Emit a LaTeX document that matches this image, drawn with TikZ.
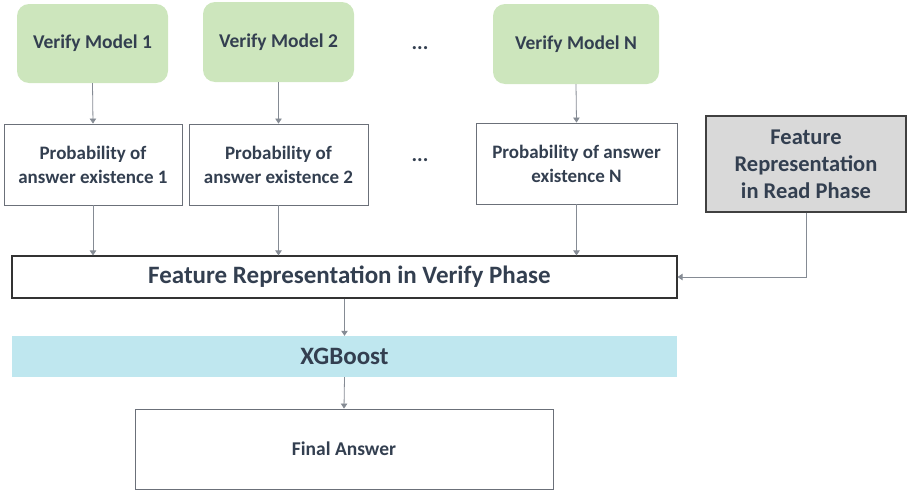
\documentclass[tikz,border=0pt]{standalone}
\usepackage{fontspec}
\setmainfont{Carlito}
\usetikzlibrary{arrows.meta}
\definecolor{txt}{HTML}{333F50}
\definecolor{greenfill}{HTML}{CDE6BD}
\definecolor{bluefill}{HTML}{BFE7EF}
\definecolor{grayfill}{HTML}{D9D9D9}
\definecolor{linegray}{HTML}{858B94}
\definecolor{edgegray}{HTML}{6B7079}
\begin{document}
\begin{tikzpicture}[x=1pt,y=-1pt,
  font=\bfseries, text=txt,
  model/.style={fill=greenfill, draw=none, rounded corners=12pt, inner sep=0pt, font=\bfseries\fontsize{19.5}{23}\selectfont},
  probbox/.style={draw=edgegray, line width=0.9pt, fill=white, inner sep=0pt, align=center, font=\bfseries\fontsize{19}{24}\selectfont},
  bigbox/.style={draw=black!80, line width=1.1pt, fill=white, inner sep=0pt, font=\bfseries\fontsize{25}{29}\selectfont},
  boostbox/.style={fill=bluefill, draw=none, inner sep=0pt, font=\bfseries\fontsize{25}{29}\selectfont},
  readbox/.style={draw=black!75, line width=1.1pt, fill=grayfill, inner sep=0pt, align=center, font=\bfseries\fontsize{22.5}{27}\selectfont},
  finalbox/.style={draw=edgegray, line width=0.9pt, fill=white, inner sep=0pt, font=\bfseries\fontsize{19.5}{23}\selectfont},
  dots/.style={font=\bfseries\fontsize{21}{25}\selectfont},
  flow/.style={draw=linegray, line width=0.8pt, -{Triangle[length=5pt,width=6.5pt]}}]
\useasboundingbox (0,0) rectangle (907,490);

% verify models
\node[model, minimum width=151, minimum height=79] (m1) at (92.5,43.5) {Verify Model 1};
\node[model, minimum width=151, minimum height=80] (m2) at (278.5,42) {Verify Model 2};
\node[model, minimum width=166, minimum height=80] (mn) at (576,44) {Verify Model N};
\node[dots] (d1) at (420,48) {...};

% probabilities
\node[probbox, minimum width=178, minimum height=81] (p1) at (93,164.5) {Probability of\\answer existence 1};
\node[probbox, minimum width=179, minimum height=81] (p2) at (278.5,164.5) {Probability of\\answer existence 2};
\node[probbox, minimum width=201, minimum height=81] (pn) at (576.5,163.5) {Probability of answer\\existence N};
\node[dots] (d2) at (420,160.5) {...};

% read phase features
\node[readbox, minimum width=200, minimum height=96] (rd) at (806,164) {Feature\\Representation\\in Read Phase};

% verify phase features
\node[bigbox, minimum width=665, minimum height=42] (vf) at (344.5,277) {\hspace*{10pt}Feature Representation in Verify Phase};

% classifier
\node[boostbox, minimum width=665, minimum height=41] (xg) at (344.5,356.5) {XGBoost};

% output
\node[finalbox, minimum width=418, minimum height=80] (fa) at (344,449) {Final Answer};

% connectors
\draw[flow] (m1.south) -- (p1.north);
\draw[flow] (m2.south) -- (p2.north);
\draw[flow] (mn.south) -- (pn.north);
\draw[flow] (p1.south) -- (p1.south |- vf.north);
\draw[flow] (p2.south) -- (p2.south |- vf.north);
\draw[flow] (pn.south) -- (pn.south |- vf.north);
\draw[flow] (rd.south) |- (vf.east);
\draw[flow] (vf.south) -- (xg.north);
\draw[flow] (xg.south) -- (fa.north);
\end{tikzpicture}
\end{document}
